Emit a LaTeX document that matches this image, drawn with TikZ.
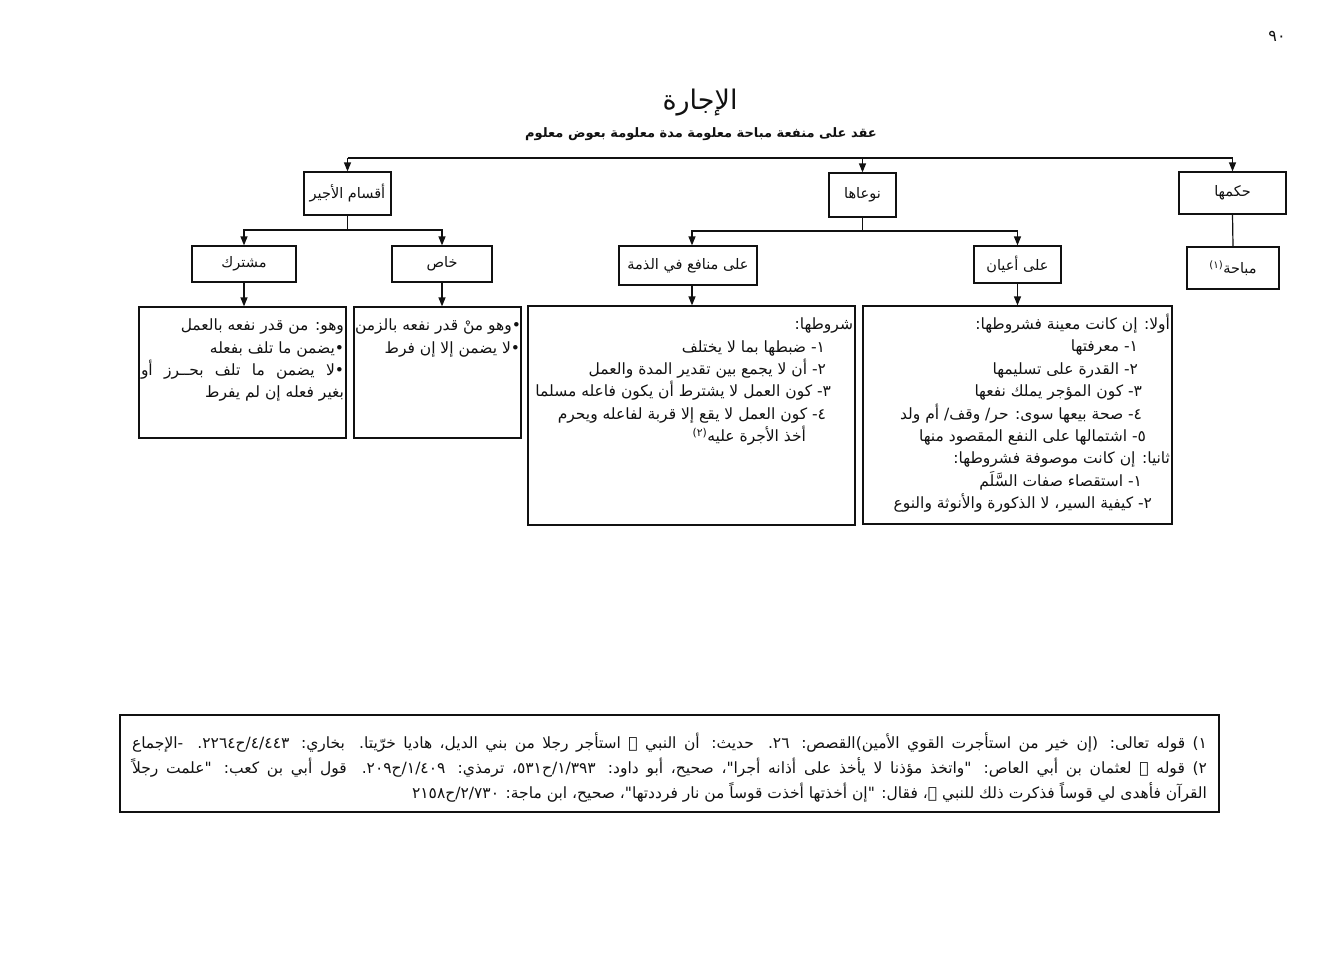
\documentclass[tikz,border=0pt]{standalone}
\usepackage{fontspec}
\usetikzlibrary{arrows.meta,positioning}
\newfontfamily\arabicfont[Script=Arabic]{DejaVu Sans}
\TeXXeTstate=1
\definecolor{ink}{HTML}{111111}
\newcommand{\ar}[1]{{\arabicfont\beginR #1\endR}}
\newcommand{\bodyfont}{\fontsize{15.5}{22.4}\selectfont}
\newcommand{\labelfont}{\fontsize{14.5}{17}\selectfont}
% fixed-size text block, lines flush right, starting a bit below the top
\newcommand{\detail}[4][12pt]{\parbox[c][#3][t]{#2}{\raggedleft\vspace*{#1}#4}}
\tikzset{
  >={Triangle[length=9pt,width=7pt]},
  every node/.style={text=ink},
  box/.style={draw=ink,line width=1.2pt,inner sep=0pt,font=\labelfont},
  para/.style={draw=ink,line width=1.2pt,inner ysep=0pt,inner xsep=2pt,font=\bodyfont},
  arrow/.style={->,line width=1.2pt,draw=ink},
  link/.style={line width=1.2pt,draw=ink},
}

\begin{document}
\begin{tikzpicture}[x=1pt,y=-1pt]
\useasboundingbox (0,0) rectangle (1327,964);

\node[font=\fontsize{16}{17}\selectfont] (page) at (1277,36) {\ar{٩٠}};

\node[font=\fontsize{27}{29}\selectfont] (title) at (700,103) {\ar{الإجارة}};
\node[font=\fontsize{13}{15}\selectfont\bfseries] (def) at (701,134) {\ar{عقد على منفعة مباحة معلومة مدة معلومة بعوض معلوم}};

% first level
\node[box,minimum width=87,minimum height=43] (ajir) at (347.5,193.5) {\ar{أقسام الأجير}};
\node[box,minimum width=67,minimum height=44] (naw) at (862.5,195) {\ar{نوعاها}};
\node[box,minimum width=107,minimum height=42] (hukm) at (1232.5,193) {\ar{حكمها}};

\coordinate (topbar) at (700,158);
\draw[link] (ajir.north |- topbar) -- (hukm.north |- topbar);
\foreach \n in {ajir,naw,hukm}
  \draw[arrow] (\n.north |- topbar) -- (\n.north);

% second level
\node[box,minimum width=104,minimum height=36] (mush) at (244,264) {\ar{مشترك}};
\node[box,minimum width=100,minimum height=36] (khas) at (442,264) {\ar{خاص}};
\node[box,minimum width=138,minimum height=39] (manafi) at (688,265.5) {\ar{على منافع في الذمة}};
\node[box,minimum width=87,minimum height=37] (ayan) at (1017.5,264.5) {\ar{على أعيان}};
\node[box,minimum width=92,minimum height=42] (mubah) at (1233,268) {\ar{مباحة\textsuperscript{(١)}}};

\coordinate (barA) at (347.5,230);
\draw[arrow] (ajir.south) -- (barA) -| (mush.north);
\draw[arrow] (barA) -| (khas.north);
\coordinate (barB) at (862.5,231);
\draw[arrow] (naw.south) -- (barB) -| ([xshift=4]manafi.north);
\draw[arrow] (barB) -| (ayan.north);
\draw[link] (hukm.south) -- (mubah.north);

% detail boxes
\node[para] (mushD) at (242.5,372.5) {\detail{203pt}{131pt}{%
 \ar{وهو: من قدر نفعه بالعمل}\\
 \ar{•يضمن ما تلف بفعله}\\
 \makebox[\linewidth][s]{\ar{•لا يضمن ما تلف بحــرز أو}}\\
 \ar{بغير فعله إن لم يفرط}}};

\node[para,inner xsep=1pt] (khasD) at (437.5,372.5) {\detail{165pt}{131pt}{%
 \mbox{\ar{•وهو منْ قدر نفعه بالزمن}}\\
 \ar{•لا يضمن إلا إن فرط}}};

\node[para] (manD) at (691.5,415.5) {\detail{323pt}{219pt}{%
 \ar{شروطها:}\\
 \ar{١- ضبطها بما لا يختلف}\kern28pt\\
 \ar{٢- أن لا يجمع بين تقدير المدة والعمل}\kern27pt\\
 \ar{٣- كون العمل لا يشترط أن يكون فاعله مسلما}\kern22pt\\
 \ar{٤- كون العمل لا يقع إلا قربة لفاعله ويحرم}\kern27pt\\
 \ar{أخذ الأجرة عليه\textsuperscript{(٢)}}\kern47pt}};

\node[para] (ayanD) at (1017.5,415) {\detail[8pt]{305pt}{218pt}{%
 \ar{أولا: إن كانت معينة فشروطها:}\\
 \ar{١- معرفتها}\kern32pt\\
 \ar{٢- القدرة على تسليمها}\kern32pt\\
 \ar{٣- كون المؤجر يملك نفعها}\kern28pt\\
 \ar{٤- صحة بيعها سوى: حر/ وقف/ أم ولد}\kern28pt\\
 \ar{٥- اشتمالها على النفع المقصود منها}\kern24pt\\
 \ar{ثانيا: إن كانت موصوفة فشروطها:}\\
 \ar{١- استقصاء صفات السَّلَم}\kern28pt\\
 \ar{٢- كيفية السير، لا الذكورة والأنوثة والنوع}\kern18pt}};

\draw[arrow] (mush.south) -- (mush.south |- mushD.north);
\draw[arrow] (khas.south) -- (khas.south |- khasD.north);
\draw[arrow] ([xshift=4]manafi.south) -- ([xshift=4]manafi.south |- manD.north);
\draw[arrow] (ayan.south) -- (ayan.south |- ayanD.north);

% footnotes
\node[para,line width=2.2pt,inner xsep=12pt,font=\fontsize{15.5}{25}\selectfont] (notes) at (669.5,763.5) {\detail[18pt]{1075pt}{97pt}{%
 \makebox[\linewidth][s]{\ar{١) قوله تعالى: (إن خير من استأجرت القوي الأمين)القصص: ٢٦. حديث: أن النبي ﷺ استأجر رجلا من بني الديل، هاديا خرّيتا. بخاري: ٤/٤٤٣/ح٢٢٦٤. -الإجماع}}\\
 \makebox[\linewidth][s]{\ar{٢) قوله ﷺ لعثمان بن أبي العاص: "واتخذ مؤذنا لا يأخذ على أذانه أجرا"، صحيح، أبو داود: ١/٣٩٣/ح٥٣١، ترمذي: ١/٤٠٩/ح٢٠٩. قول أبي بن كعب: "علمت رجلاً}}\\
 \ar{القرآن فأهدى لي قوساً فذكرت ذلك للنبي ﷺ، فقال: "إن أخذتها أخذت قوساً من نار فرددتها"، صحيح، ابن ماجة: ٢/٧٣٠/ح٢١٥٨}}};

\end{tikzpicture}
\end{document}
